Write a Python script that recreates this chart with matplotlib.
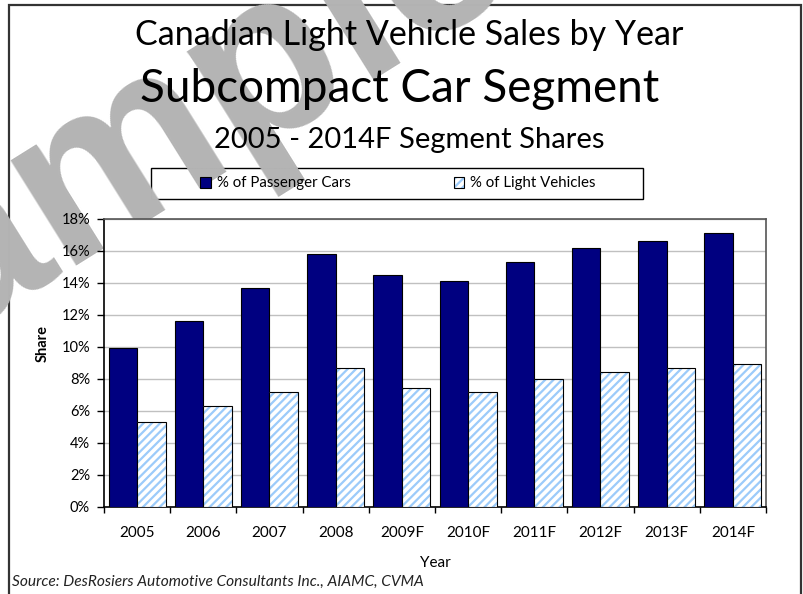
import matplotlib
matplotlib.use("Agg")
import matplotlib.pyplot as plt
import numpy as np
from matplotlib.patches import Rectangle, Patch
from matplotlib.legend_handler import HandlerTuple
from matplotlib.ticker import FuncFormatter, MultipleLocator

years = ["2005", "2006", "2007", "2008", "2009F", "2010F",
         "2011F", "2012F", "2013F", "2014F"]
passenger_cars = [9.9, 11.6, 13.7, 15.8, 14.5, 14.1, 15.3, 16.2, 16.6, 17.1]
light_vehicles = [5.3, 6.3, 7.2, 8.7, 7.4, 7.2, 8.0, 8.4, 8.7, 8.9]

plt.rcParams["font.family"] = ["Lato", "DejaVu Sans"]
plt.rcParams["hatch.color"] = "#9ccbfa"
plt.rcParams["hatch.linewidth"] = 1.6

W, H = 804, 594
fig = plt.figure(figsize=(W / 100, H / 100), dpi=100)


def fx(px):
    return px / W


def fy(py):
    return 1 - py / H


ax = fig.add_axes([fx(104), fy(506.7), fx(766) - fx(104), fy(219) - fy(506.7)])
ax.set_zorder(2)

x = np.arange(len(years))
bw = 0.43
ax.bar(x - bw / 2, passenger_cars, bw, color="#000080", edgecolor="black",
       linewidth=0.8, zorder=3)
ax.bar(x + bw / 2, light_vehicles, bw, facecolor="white", hatch="////",
       linewidth=0, zorder=3)
ax.bar(x + bw / 2, light_vehicles, bw, fill=False, edgecolor="black",
       linewidth=0.8, zorder=4)

ax.set_xlim(-0.5, len(years) - 0.5)
ax.set_ylim(0, 18)
ax.yaxis.set_major_locator(MultipleLocator(2))
ax.yaxis.set_major_formatter(FuncFormatter(lambda v, p: f"{v:.0f}%"))
ax.grid(axis="y", color="#c0c0c0", linewidth=1.0, zorder=0)
ax.set_axisbelow(True)

# category ticks sit on the boundaries, labels in the middle
ax.set_xticks(np.arange(len(years) + 1) - 0.5)
ax.set_xticklabels([])
ax.set_xticks(x, minor=True)
ax.set_xticklabels(years, minor=True)
ax.tick_params(axis="x", which="major", length=4, width=1, direction="out")
ax.tick_params(axis="x", which="minor", length=0, pad=14, labelsize=11)
ax.tick_params(axis="y", length=5, width=1, direction="out", pad=5,
               labelsize=10.5)

for side in ("left", "bottom"):
    ax.spines[side].set_color("black")
    ax.spines[side].set_linewidth(1.2)
for side in ("top", "right"):
    ax.spines[side].set_color("#555555")
    ax.spines[side].set_linewidth(1.2)

fig.text(fx(43), fy(344), "Share", rotation=90, ha="center", va="center",
         fontsize=10.5, fontweight="bold")
fig.text(fx(435), fy(567), "Year", ha="center", va="baseline", fontsize=11)
fig.text(fx(12), fy(586), "Source: DesRosiers Automotive Consultants Inc., AIAMC, CVMA",
         ha="left", va="baseline", fontsize=11.2, style="italic", color="#222222")

# titles
fig.text(fx(409), fy(45), "Canadian Light Vehicle Sales by Year",
         ha="center", va="baseline", fontsize=24.5, zorder=5)
fig.text(fx(400), fy(102), "Subcompact Car Segment",
         ha="center", va="baseline", fontsize=33, zorder=5)
fig.text(fx(409), fy(148), "2005 - 2014F Segment Shares",
         ha="center", va="baseline", fontsize=21, zorder=5)

# legend box with centred entries
fig.patches.append(Rectangle((fx(150.7), fy(199.3)), fx(642.7) - fx(150.7),
                             fy(167.7) - fy(199.3), transform=fig.transFigure,
                             fill=False, edgecolor="black", linewidth=1.0))
h_dark = Patch(facecolor="#000080", edgecolor="black", linewidth=0.8)
h_light = (Patch(facecolor="white", hatch="////", linewidth=0),
           Patch(fill=False, edgecolor="black", linewidth=0.8))
fig.legend([h_dark, h_light], ["% of Passenger Cars", "% of Light Vehicles"],
           handler_map={tuple: HandlerTuple(ndivide=1, pad=0)},
           loc="center", bbox_to_anchor=(fx(398), fy(183.5)), ncol=2,
           frameon=False, fontsize=10.8, handlelength=0.7, handleheight=0.7,
           handletextpad=0.4, columnspacing=6.9)

# outer chart border
fig.patches.append(Rectangle((fx(9), fy(640)), fx(801) - fx(9), fy(5) - fy(640),
                             transform=fig.transFigure, fill=False,
                             edgecolor="#333333", linewidth=1.6))

# watermark
fig.text(fx(140), fy(150), "Sample", rotation=32, ha="center", va="center",
         fontsize=168, fontweight="bold", color="#b4b4b4",
         family=["Liberation Sans", "DejaVu Sans"], zorder=1)

fig.savefig("out.png", dpi=100)
